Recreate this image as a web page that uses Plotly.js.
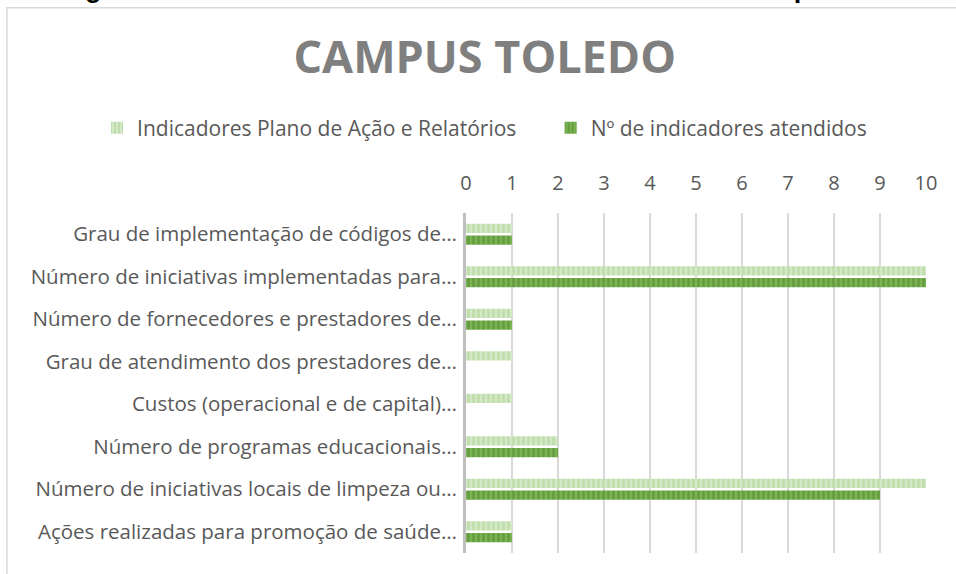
<!DOCTYPE html>
<html><head><meta charset="utf-8">
<script src="https://cdn.plot.ly/plotly-3.0.1.min.js"></script>
<style>html,body{margin:0;padding:0;background:#fff;}#chart{width:956px;height:574px;}</style>
</head><body><div id="chart"></div>
<script>
const categories = [
  "Grau de implementação de códigos de…",
  "Número de iniciativas implementadas para…",
  "Número de fornecedores e prestadores de…",
  "Grau de atendimento dos prestadores de…",
  "Custos (operacional e de capital)…",
  "Número de programas educacionais…",
  "Número de iniciativas locais de limpeza ou…",
  "Ações realizadas para promoção de saúde…"
];
const seriesNames = ["Indicadores Plano de Ação e Relatórios", "Nº de indicadores atendidos"];
const indicadoresPlano = [1, 10, 1, 1, 1, 2, 10, 1];
const indicadoresAtendidos = [1, 10, 1, 0, 0, 2, 9, 1];
const tickValues = [0,1,2,3,4,5,6,7,8,9,10];

const traces = [
  {type:'bar', orientation:'h', name:seriesNames[0], y:categories, x:indicadoresPlano, legend:'legend',
   marker:{color:'#cfe6c0', pattern:{shape:'|', fgcolor:'#a9d18e', bgcolor:'#d3e8c6', size:5, solidity:0.5, fillmode:'overlay'}, line:{width:0}}},
  {type:'bar', orientation:'h', name:seriesNames[1], y:categories, x:indicadoresAtendidos, legend:'legend2',
   marker:{color:'#70ad47', pattern:{shape:'|', fgcolor:'#548235', bgcolor:'#78b44f', size:5, solidity:0.5, fillmode:'overlay'}, line:{width:0}}}
];

const legendCommon = {orientation:'h', yref:'container', yanchor:'middle', y:0.777, xref:'container', xanchor:'left',
  font:{size:21, color:'#595959'}, bgcolor:'rgba(0,0,0,0)', borderwidth:0};

const layout = {
  width:956, height:574,
  margin:{l:466, r:30, t:213, b:21},
  paper_bgcolor:'#ffffff', plot_bgcolor:'#ffffff',
  font:{family:'Open Sans, Noto Sans, sans-serif', color:'#595959', size:20},
  title:{text:'CAMPUS TOLEDO', xref:'container', x:0.507, xanchor:'center', yref:'container', y:0.9007, yanchor:'middle',
         font:{family:'Open Sans, sans-serif', size:45, color:'#7f7f7f', weight:'bold'}},
  barmode:'group', bargap:0.45, bargroupgap:0.2,
  showlegend:true,
  legend:Object.assign({}, legendCommon, {x:0.1015}),
  legend2:Object.assign({}, legendCommon, {x:0.576}),
  xaxis:{side:'top', range:[0,10], tickvals:tickValues, showgrid:true, gridcolor:'#d9d9d9', gridwidth:1.5,
         zeroline:false, showline:false, ticks:'', ticklabelstandoff:18, tickfont:{size:20, color:'#595959'}, fixedrange:true},
  yaxis:{autorange:'reversed', type:'category', showline:true, linecolor:'#bfbfbf', linewidth:3, ticks:'',
         ticklabelstandoff:2, tickfont:{size:20.5, color:'#595959'}, showgrid:false, zeroline:false, fixedrange:true},
  shapes:[
    {type:'rect', xref:'paper', yref:'paper', x0:-0.998, x1:1.08, y0:-0.1, y1:1.604, line:{color:'#d9d9d9', width:1.5}, fillcolor:'rgba(0,0,0,0)', layer:'below'}
  ],
  annotations:[
    {text:'<b>Figura 14 - Atendimento dos IDS através dos IDS no Campus Toledo</b>', xref:'paper', yref:'paper',
     x:0.0696, y:1.612, xanchor:'center', yanchor:'bottom', showarrow:false,
     font:{family:'Liberation Sans, Arial, sans-serif', size:27, color:'#000000'}}
  ]
};
Plotly.newPlot('chart', traces, layout, {displayModeBar:false, staticPlot:true});
</script></body></html>
